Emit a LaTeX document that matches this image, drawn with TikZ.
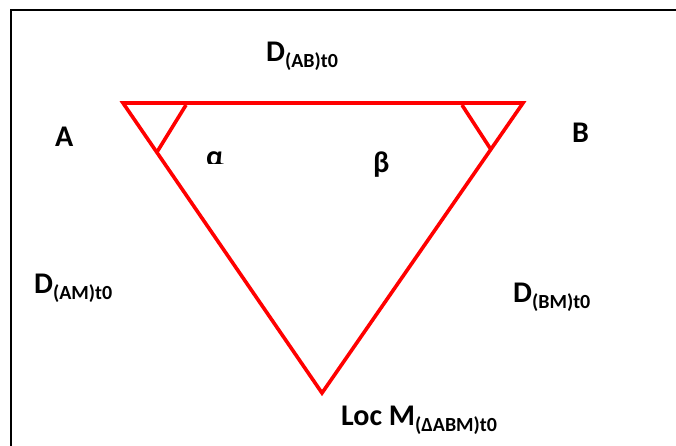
\documentclass[tikz,border=0pt]{standalone}
\usepackage{fontspec}
\setmainfont{Carlito}
\usetikzlibrary{calc}
\newcommand{\lowsub}[1]{\raisebox{-6pt}{\fontsize{20}{20}\selectfont #1}}
\tikzset{
    lbl/.style={anchor=base west, inner sep=0pt, font=\bfseries\fontsize{30}{32}\selectfont},
    side/.style={red, line width=3.6pt, line join=miter},
    frame/.style={black, line width=2.5pt}
}
\begin{document}
\begin{tikzpicture}[x=1pt, y=-1pt]
    % Fix the page size to the reference
    \useasboundingbox (0,0) rectangle (676,446);

    % Outer frame (only its top and left edges are in view)
    \draw[frame] (11,446) -- (11,10) -- (676,10);

    % Corners of the triangle
    \coordinate (A) at (123,103);
    \coordinate (B) at (523,103);
    \coordinate (M) at (322,393);

    % The triangle itself
    \draw[side] (A) -- (B) -- (M) -- cycle;

    % Angle marks at A and B
    \coordinate (a1) at (186,105);
    \coordinate (a2) at ($(A)!0.17!(M)$);
    \coordinate (b1) at (462,105);
    \coordinate (b2) at ($(B)!0.16!(M)$);
    \draw[side] (a1) -- (a2);
    \draw[side] (b1) -- (b2);

    % Labels
    \node[lbl] (labAB) at (266,62) {D\lowsub{(AB)t0}};
    \node[lbl] (labA) at (55,147) {A};
    \node[lbl] (labB) at (572,143) {B};
    \begin{scope}
        \clip (195,140) rectangle (240,164);
        \node[lbl] (alpha) at (206,167) {α};
    \end{scope}
    \node[lbl] (beta) at (373,173) {β};
    \node[lbl] (labAM) at (34,293) {D\lowsub{(AM)t0}};
    \node[lbl] (labBM) at (513,302) {D\lowsub{(BM)t0}};
    \node[lbl] (labM) at (341,425) {Loc M\lowsub{(ΔABM)t0}};
\end{tikzpicture}
\end{document}
